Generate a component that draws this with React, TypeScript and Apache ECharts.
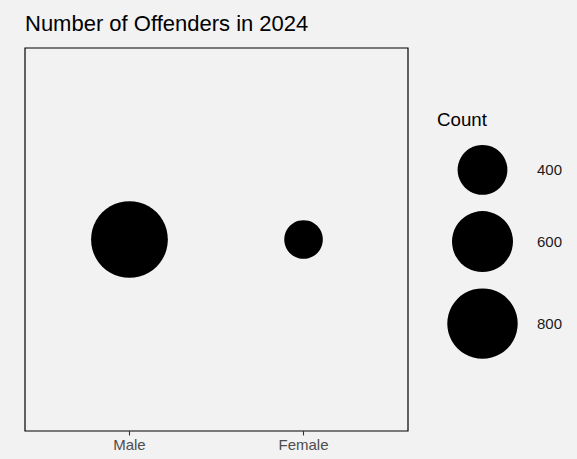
import React, { useEffect, useRef } from "react";
import * as echarts from "echarts";

// ---- data ----
const categories = ["Male", "Female"];
const counts = [950, 240];
const legendBreaks = [400, 600, 800];

// ---- layout / style ----
const W = 577;
const H = 459;
const FONT = "'Liberation Sans', Arial, Helvetica, sans-serif";
const SIZE_K = 1.55; // area scale: diameter = 2*sqrt(k*v)
const sizeOf = (v: number) => 2 * Math.sqrt(SIZE_K * v);
const LEGEND_TOP = 145;
const LEGEND_GAP = 16.3;

function legendCenters(): number[] {
  const out: number[] = [];
  let y = LEGEND_TOP;
  for (const b of legendBreaks) {
    const d = sizeOf(b);
    const c = y + d / 2;
    out.push(c);
    y = c + d / 2 + LEGEND_GAP;
  }
  return out;
}

export default function App() {
  const ref = useRef<HTMLDivElement>(null);
  useEffect(() => {
    if (!ref.current) return;
    const chart = echarts.init(ref.current, null, { renderer: "svg" });
    const ly = legendCenters();
    chart.setOption({
      animation: false,
      backgroundColor: "#f2f2f2",
      textStyle: { fontFamily: FONT },
      title: [
        {
          text: "Number of Offenders in 2024",
          left: 25,
          top: 12,
          padding: 0,
          textStyle: { fontSize: 22, fontWeight: "normal", color: "#000", fontFamily: FONT },
        },
        {
          text: "Count",
          left: 437,
          top: 110,
          padding: 0,
          textStyle: { fontSize: 18.7, fontWeight: "normal", color: "#000", fontFamily: FONT },
        },
      ],
      grid: [
        {
          left: 25,
          top: 48,
          width: 383,
          height: 383,
          show: true,
          borderColor: "#000",
          borderWidth: 1.2,
          backgroundColor: "#f2f2f2",
        },
        { left: 432.5, top: 0, width: 100, height: H, show: false },
      ],
      xAxis: [
        {
          type: "value",
          gridIndex: 0,
          min: 0.4,
          max: 2.6,
          axisLine: { show: false },
          splitLine: { show: false },
          axisTick: {
            show: true,
            customValues: [1, 2],
            length: 4.5,
            lineStyle: { color: "#333", width: 1.1 },
          },
          axisLabel: {
            show: true,
            customValues: [1, 2],
            formatter: (v: number) => categories[Math.round(v) - 1] ?? "",
            color: "#4d4d4d",
            fontSize: 15,
            fontFamily: FONT,
            margin: 6,
          },
        },
        { type: "value", gridIndex: 1, min: 0, max: 1, show: false },
      ],
      yAxis: [
        { type: "value", gridIndex: 0, min: 0, max: 2, show: false },
        { type: "value", gridIndex: 1, min: 0, max: H, inverse: true, show: false },
      ],
      series: [
        {
          type: "scatter",
          xAxisIndex: 0,
          yAxisIndex: 0,
          data: categories.map((c, i) => [i + 1, 1, counts[i]]),
          symbolSize: (d: number[]) => sizeOf(d[2]),
          itemStyle: { color: "#000", opacity: 1 },
          silent: true,
        },
        {
          type: "scatter",
          xAxisIndex: 1,
          yAxisIndex: 1,
          data: legendBreaks.map((b, i) => [0.5, ly[i], b]),
          symbolSize: (d: number[]) => sizeOf(d[2]),
          itemStyle: { color: "#000", opacity: 1 },
          silent: true,
          label: {
            show: true,
            position: "inside",
            align: "left",
            verticalAlign: "middle",
            offset: [54.5, 0],
            formatter: (p: any) => String(p.value[2]),
            color: "#1a1a1a",
            fontSize: 15,
            fontFamily: FONT,
          },
        },
      ],
    });
    return () => chart.dispose();
  }, []);
  return (
    <div
      ref={ref}
      style={{ position: "fixed", left: 0, top: 0, width: W, height: H, background: "#f2f2f2" }}
    />
  );
}
